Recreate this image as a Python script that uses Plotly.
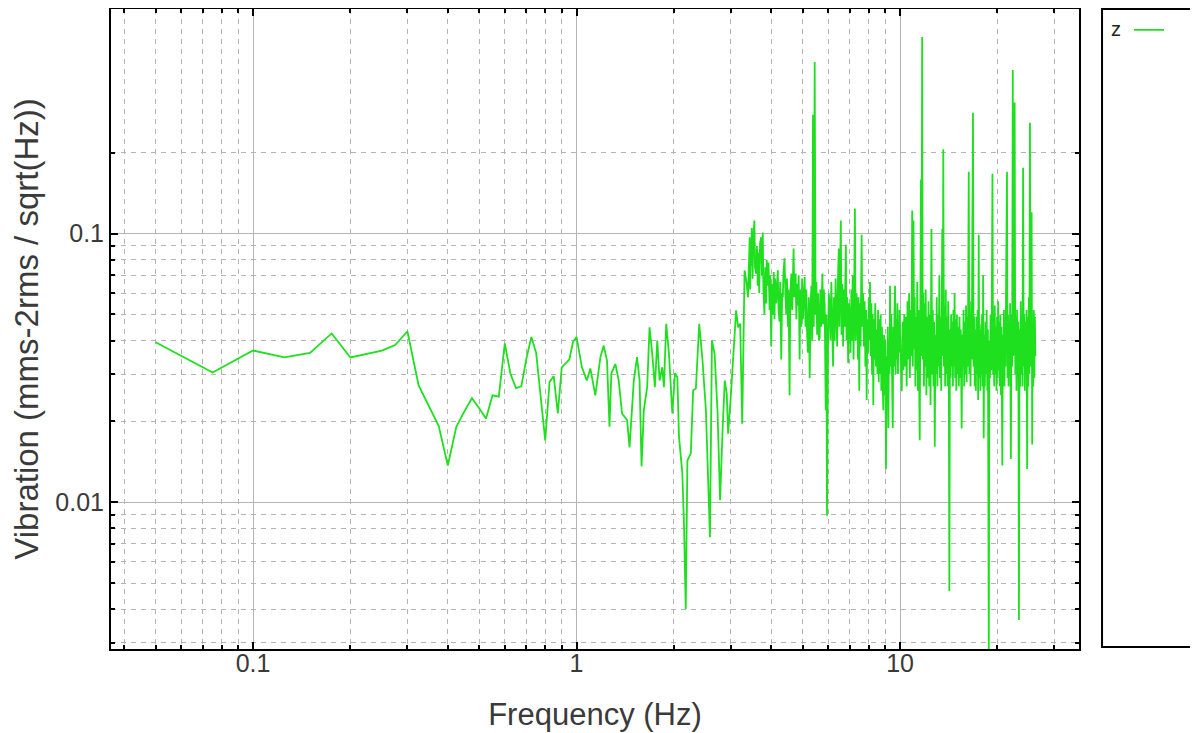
import plotly.graph_objects as go

# ---------------- data ----------------
freq_sparse = [0.05, 0.075, 0.1, 0.125, 0.15, 0.175, 0.2, 0.225, 0.25, 0.275, 0.3,
               0.325, 0.35, 0.375, 0.4, 0.425, 0.45, 0.475, 0.5, 0.525, 0.55, 0.575,
               0.6, 0.625, 0.65, 0.675, 0.7, 0.725, 0.75, 0.775, 0.8, 0.825, 0.85,
               0.875, 0.9, 0.925, 0.95, 0.975, 1.0]
vib_sparse = [0.0394, 0.0304, 0.0367, 0.0346, 0.0360, 0.0425, 0.0346, 0.0358, 0.0367, 0.0385, 0.0433,
              0.0272, 0.0228, 0.0192, 0.0137, 0.0191, 0.0218, 0.0244, 0.0224, 0.0205, 0.0250, 0.0247,
              0.0390, 0.0300, 0.0266, 0.0270, 0.0343, 0.0412, 0.0360, 0.0240, 0.0170, 0.0280, 0.0295,
              0.0214, 0.0318, 0.0329, 0.0340, 0.0395, 0.0412]

freq_mid = [1.039, 1.076, 1.103, 1.143, 1.185, 1.213, 1.242, 1.264, 1.281, 1.318, 1.350, 1.382,
            1.433, 1.458, 1.503, 1.538, 1.566, 1.588, 1.614, 1.653, 1.681, 1.714, 1.746, 1.776,
            1.806, 1.840, 1.862, 1.893, 1.930, 1.977, 2.015, 2.049, 2.073, 2.123, 2.149, 2.175,
            2.201, 2.255, 2.293, 2.338, 2.394, 2.451, 2.511, 2.547, 2.584, 2.621, 2.671, 2.729,
            2.777, 2.830, 2.871, 2.912, 2.941, 2.997, 3.054, 3.113, 3.158, 3.204, 3.251, 3.306,
            3.347, 3.387, 3.429]
vib_mid = [0.0318, 0.0284, 0.0315, 0.0250, 0.0347, 0.0383, 0.0337, 0.0191, 0.0302, 0.0327, 0.0284, 0.0214,
           0.0202, 0.0160, 0.0284, 0.0347, 0.0284, 0.0136, 0.0220, 0.0268, 0.0448, 0.0357, 0.0268, 0.0400,
           0.0284, 0.0318, 0.0268, 0.0462, 0.0357, 0.0214, 0.0302, 0.0292, 0.0175, 0.0128, 0.0081, 0.0040,
           0.0143, 0.0152, 0.0261, 0.0265, 0.0462, 0.0337, 0.0220, 0.0121, 0.0074, 0.0400, 0.0357, 0.0214,
           0.0102, 0.0191, 0.0284, 0.0254, 0.0180, 0.0247, 0.0357, 0.0518, 0.0448, 0.0462, 0.0196, 0.0729,
           0.0669, 0.0580, 0.0969]

freq_high = [3.44, 3.45, 3.463, 3.48, 3.50, 3.52, 3.546, 3.56, 3.589, 3.61, 3.630, 3.65, 3.67, 3.69,
             3.720, 3.74, 3.763, 3.78, 3.808, 3.83, 3.855, 3.87, 3.899, 3.92, 3.95, 3.97, 3.996, 4.02,
             4.042, 4.07, 4.09, 4.11, 4.141, 4.16, 4.188, 4.21, 4.240, 4.26, 4.292, 4.32, 4.341, 4.36,
             4.394, 4.42, 4.448, 4.47, 4.50, 4.52, 4.554, 4.58, 4.610, 4.64, 4.686, 4.71, 4.754, 4.78,
             4.81, 4.833, 4.86, 4.891, 4.92, 4.95, 4.98, 5.008, 5.04, 5.070, 5.10, 5.13, 5.16, 5.191,
             5.22, 5.255, 5.29, 5.319, 5.35, 5.380, 5.41, 5.445, 5.48, 5.512, 5.54, 5.58, 5.61, 5.643,
             5.67, 5.70, 5.73, 5.754, 5.78, 5.81, 5.847, 5.87, 5.89, 5.92, 5.944, 5.987, 6.02, 6.060,
             6.09, 6.13, 6.17, 6.206, 6.24, 6.28, 6.32, 6.359, 6.39, 6.43, 6.465, 6.49, 6.52, 6.558,
             6.59, 6.63, 6.667, 6.70, 6.74, 6.77, 6.798, 6.83, 6.87, 6.910, 6.95, 6.995, 7.03, 7.07,
             7.10, 7.14, 7.18, 7.21, 7.250, 7.29, 7.33, 7.371, 7.41, 7.44, 7.477, 7.51, 7.55, 7.58,
             7.606, 7.64, 7.68, 7.732, 7.77, 7.81, 7.85, 7.883, 7.92, 7.96, 8.00, 8.03, 8.071, 8.11,
             8.15, 8.19, 8.23, 8.264, 8.30, 8.34, 8.38, 8.42, 8.467, 8.51, 8.55, 8.59, 8.63, 8.668,
             8.71, 8.75, 8.79, 8.83, 8.874, 8.92, 8.96, 9.00, 9.047, 9.09, 9.13, 9.16, 9.199, 9.24,
             9.28, 9.310, 9.35, 9.39, 9.43, 9.492, 9.53, 9.57, 9.61, 9.649, 9.69, 9.73, 9.77, 9.81,
             9.85, 9.879, 9.92, 9.96]
vib_high = [0.062, 0.090, 0.076, 0.105, 0.068, 0.098, 0.112, 0.075, 0.071, 0.090, 0.064, 0.085, 0.060, 0.092,
            0.097, 0.070, 0.101, 0.062, 0.050, 0.075, 0.055, 0.080, 0.064, 0.078, 0.052, 0.070, 0.038, 0.065,
            0.050, 0.072, 0.048, 0.068, 0.055, 0.062, 0.073, 0.052, 0.047, 0.066, 0.034, 0.060, 0.058, 0.072,
            0.081, 0.060, 0.050, 0.068, 0.045, 0.062, 0.025, 0.060, 0.071, 0.052, 0.088, 0.058, 0.071, 0.048,
            0.065, 0.054, 0.070, 0.034, 0.062, 0.045, 0.068, 0.048, 0.060, 0.069, 0.045, 0.062, 0.042, 0.036,
            0.058, 0.029, 0.055, 0.064, 0.040, 0.277, 0.045, 0.436, 0.050, 0.066, 0.042, 0.060, 0.040, 0.041,
            0.062, 0.045, 0.058, 0.071, 0.046, 0.062, 0.054, 0.038, 0.022, 0.050, 0.0089, 0.038, 0.060, 0.054,
            0.040, 0.066, 0.036, 0.032, 0.058, 0.040, 0.068, 0.054, 0.038, 0.070, 0.088, 0.045, 0.060, 0.112,
            0.042, 0.065, 0.038, 0.062, 0.045, 0.075, 0.091, 0.040, 0.058, 0.033, 0.055, 0.050, 0.036, 0.062,
            0.040, 0.070, 0.034, 0.058, 0.124, 0.040, 0.060, 0.054, 0.034, 0.058, 0.026, 0.055, 0.038, 0.065,
            0.099, 0.045, 0.060, 0.038, 0.056, 0.032, 0.052, 0.024, 0.048, 0.036, 0.058, 0.040, 0.066, 0.035,
            0.055, 0.030, 0.050, 0.023, 0.048, 0.034, 0.055, 0.032, 0.044, 0.030, 0.052, 0.028, 0.048, 0.030,
            0.050, 0.026, 0.045, 0.028, 0.022, 0.042, 0.025, 0.040, 0.0133, 0.035, 0.024, 0.045, 0.0189, 0.040,
            0.030, 0.064, 0.032, 0.050, 0.026, 0.0189, 0.045, 0.032, 0.052, 0.064, 0.030, 0.048, 0.034, 0.055,
            0.030, 0.044, 0.036, 0.052]

freq_top = [10.00, 10.06, 10.12, 10.18, 10.24, 10.30, 10.36, 10.42, 10.48, 10.54, 10.60, 10.66, 10.72,
            10.78, 10.84, 10.90, 10.95, 11.00, 11.05, 11.10, 11.15, 11.20, 11.25, 11.30, 11.35, 11.40,
            11.45, 11.50, 11.55, 11.60, 11.65, 11.70, 11.75, 11.80, 11.85, 11.90, 11.95, 12.00, 12.06,
            12.12, 12.18, 12.24, 12.30, 12.36, 12.42, 12.50, 12.56, 12.62, 12.68, 12.74, 12.80, 12.86,
            12.92, 12.98, 13.04, 13.10, 13.16, 13.22, 13.28, 13.34, 13.40, 13.50, 13.55, 13.60, 13.66,
            13.72, 13.78, 13.84, 13.90, 13.96, 14.02, 14.08, 14.14, 14.20, 14.26, 14.32, 14.38, 14.44,
            14.50, 14.56, 14.62, 14.68, 14.74, 14.80, 14.86, 14.92, 14.98, 15.05, 15.12, 15.19, 15.26,
            15.33, 15.40, 15.50, 15.57, 15.64, 15.71, 15.78, 15.85, 15.92, 15.99, 16.06, 16.13, 16.20,
            16.30, 16.37, 16.44, 16.51, 16.58, 16.65, 16.80, 16.87, 16.94, 17.01, 17.08, 17.15, 17.22,
            17.29, 17.36, 17.43, 17.50, 17.57, 17.64, 17.71, 17.78, 17.85, 17.92, 17.99, 18.06, 18.13,
            18.20, 18.28, 18.36, 18.44, 18.52, 18.60, 18.68, 18.80, 18.88, 18.96, 19.04, 19.12, 19.20,
            19.30, 19.38, 19.46, 19.54, 19.62, 19.70, 19.78, 19.86, 19.94, 20.02, 20.10, 20.18, 20.26,
            20.34, 20.42, 20.50, 20.58, 20.70, 20.78, 20.86, 20.94, 21.02, 21.10, 21.18, 21.26, 21.40,
            21.48, 21.56, 21.64, 21.72, 21.80, 21.88, 22.00, 22.10, 22.20, 22.30, 22.40, 22.50, 22.60,
            22.70, 22.80, 22.90, 23.00, 23.10, 23.20, 23.30, 23.40, 23.50, 23.60, 23.70, 23.80, 23.90,
            24.00, 24.10, 24.20, 24.30, 24.40, 24.50, 24.60, 24.70, 24.80, 24.90, 25.00, 25.10, 25.20,
            25.30, 25.40, 25.50, 25.60, 25.70, 25.80, 25.90, 26.00, 26.10, 26.20]
vib_top = [0.042, 0.029, 0.0259, 0.047, 0.031, 0.050, 0.032, 0.049, 0.027, 0.056, 0.034, 0.060, 0.029,
           0.052, 0.035, 0.122, 0.032, 0.112, 0.037, 0.058, 0.027, 0.049, 0.031, 0.066, 0.026, 0.052,
           0.030, 0.0170, 0.050, 0.159, 0.035, 0.540, 0.034, 0.060, 0.027, 0.055, 0.032, 0.062, 0.025,
           0.049, 0.029, 0.056, 0.027, 0.050, 0.023, 0.104, 0.030, 0.052, 0.027, 0.047, 0.0161, 0.042,
           0.030, 0.058, 0.027, 0.050, 0.032, 0.070, 0.029, 0.049, 0.026, 0.104, 0.035, 0.206, 0.032,
           0.054, 0.027, 0.062, 0.030, 0.049, 0.027, 0.056, 0.034, 0.00467, 0.044, 0.029, 0.050, 0.032,
           0.047, 0.027, 0.052, 0.032, 0.060, 0.029, 0.048, 0.026, 0.050, 0.030, 0.045, 0.027, 0.049,
           0.029, 0.044, 0.0188, 0.042, 0.032, 0.052, 0.027, 0.047, 0.030, 0.054, 0.028, 0.049, 0.032,
           0.170, 0.030, 0.050, 0.027, 0.056, 0.034, 0.282, 0.032, 0.049, 0.027, 0.044, 0.026, 0.049,
           0.030, 0.052, 0.024, 0.099, 0.029, 0.046, 0.026, 0.044, 0.030, 0.050, 0.027, 0.070, 0.0173,
           0.042, 0.027, 0.047, 0.030, 0.052, 0.026, 0.044, 0.0027, 0.040, 0.029, 0.050, 0.031, 0.049,
           0.167, 0.030, 0.048, 0.027, 0.054, 0.030, 0.045, 0.026, 0.049, 0.029, 0.056, 0.031, 0.047,
           0.027, 0.050, 0.025, 0.045, 0.0137, 0.042, 0.030, 0.052, 0.027, 0.049, 0.032, 0.062, 0.170,
           0.029, 0.050, 0.027, 0.047, 0.030, 0.055, 0.0145, 0.050, 0.032, 0.407, 0.035, 0.060, 0.308,
           0.030, 0.049, 0.026, 0.052, 0.029, 0.047, 0.00364, 0.044, 0.027, 0.056, 0.030, 0.049, 0.027,
           0.176, 0.032, 0.050, 0.026, 0.047, 0.030, 0.052, 0.0133, 0.049, 0.027, 0.058, 0.030, 0.259,
           0.032, 0.049, 0.120, 0.0164, 0.047, 0.027, 0.052, 0.029, 0.049, 0.035]

series_name = "z"
x_title = "Frequency (Hz)"
y_title = "Vibration (mms-2rms / sqrt(Hz))"
x_tick_vals = [0.1, 1, 10]
x_tick_text = ["0.1", "1", "10"]
x_minor_vals = [0.04, 0.05, 0.06, 0.07, 0.08, 0.09, 0.2, 0.3, 0.4, 0.5, 0.6, 0.7, 0.8, 0.9,
                2, 3, 4, 5, 6, 7, 8, 9, 20, 30]
y_tick_vals = [0.01, 0.1]
y_tick_text = ["0.01", "0.1"]
y_minor_vals = [0.003, 0.004, 0.005, 0.006, 0.007, 0.008, 0.009,
                0.02, 0.03, 0.04, 0.05, 0.06, 0.07, 0.08, 0.09, 0.2]

freq = freq_sparse + freq_mid + freq_high + freq_top
vib = vib_sparse + vib_mid + vib_high + vib_top

# ---------------- figure ----------------
FONT = "Liberation Sans, Arial, sans-serif"
GREEN = "#1fe01f"
GRID = "#b4b4b4"
TXT = "#3a3a3a"

fig = go.Figure()
fig.add_trace(go.Scatter(x=freq, y=vib, mode="lines", name="",
                         line=dict(color=GREEN, width=1.8), showlegend=True))

axis_common = dict(
    type="log", showline=True, linecolor="black", linewidth=2, mirror="allticks",
    ticks="inside", ticklen=7, tickwidth=1.5, tickcolor="black",
    showgrid=True, gridcolor=GRID, gridwidth=1, zeroline=False, automargin=False,
    tickfont=dict(family=FONT, size=25, color=TXT),
)

fig.update_xaxes(
    **axis_common,
    range=[-1.439, 1.553],
    tickmode="array", tickvals=x_tick_vals, ticktext=x_tick_text,
    ticklabelstandoff=-9,
    minor=dict(tickmode="array", tickvals=x_minor_vals, ticks="inside", ticklen=4,
               tickcolor="black", showgrid=True, gridcolor=GRID, griddash="5px,5px", gridwidth=1),
    title=dict(text=x_title, font=dict(family=FONT, size=31, color=TXT), standoff=27),
)
fig.update_yaxes(
    **axis_common,
    range=[-2.5465, -0.1636],
    tickmode="array", tickvals=y_tick_vals, ticktext=y_tick_text,
    minor=dict(tickmode="array", tickvals=y_minor_vals, ticks="inside", ticklen=4,
               tickcolor="black", showgrid=True, gridcolor=GRID, griddash="5px,5px", gridwidth=1),
    title=dict(text=y_title, font=dict(family=FONT, size=33, color=TXT), standoff=21),
)

fig.update_layout(
    width=1190, height=725,
    margin=dict(l=103, r=119, t=1, b=84),
    plot_bgcolor="white", paper_bgcolor="white",
    font=dict(family=FONT, color=TXT),
    legend=dict(x=1.031, y=0.998, xanchor="left", yanchor="top",
                bgcolor="rgba(0,0,0,0)", borderwidth=0,
                title=dict(text=series_name, side="left", font=dict(family=FONT, size=20, color="#222")),
                font=dict(family=FONT, size=20), itemwidth=30),
    shapes=[dict(type="rect", xref="paper", yref="paper", x0=1.0238, x1=1.3, y0=0.003, y1=1.0,
                 line=dict(color="black", width=2), fillcolor="rgba(0,0,0,0)", layer="below")],
)

fig.write_html("out.html")
